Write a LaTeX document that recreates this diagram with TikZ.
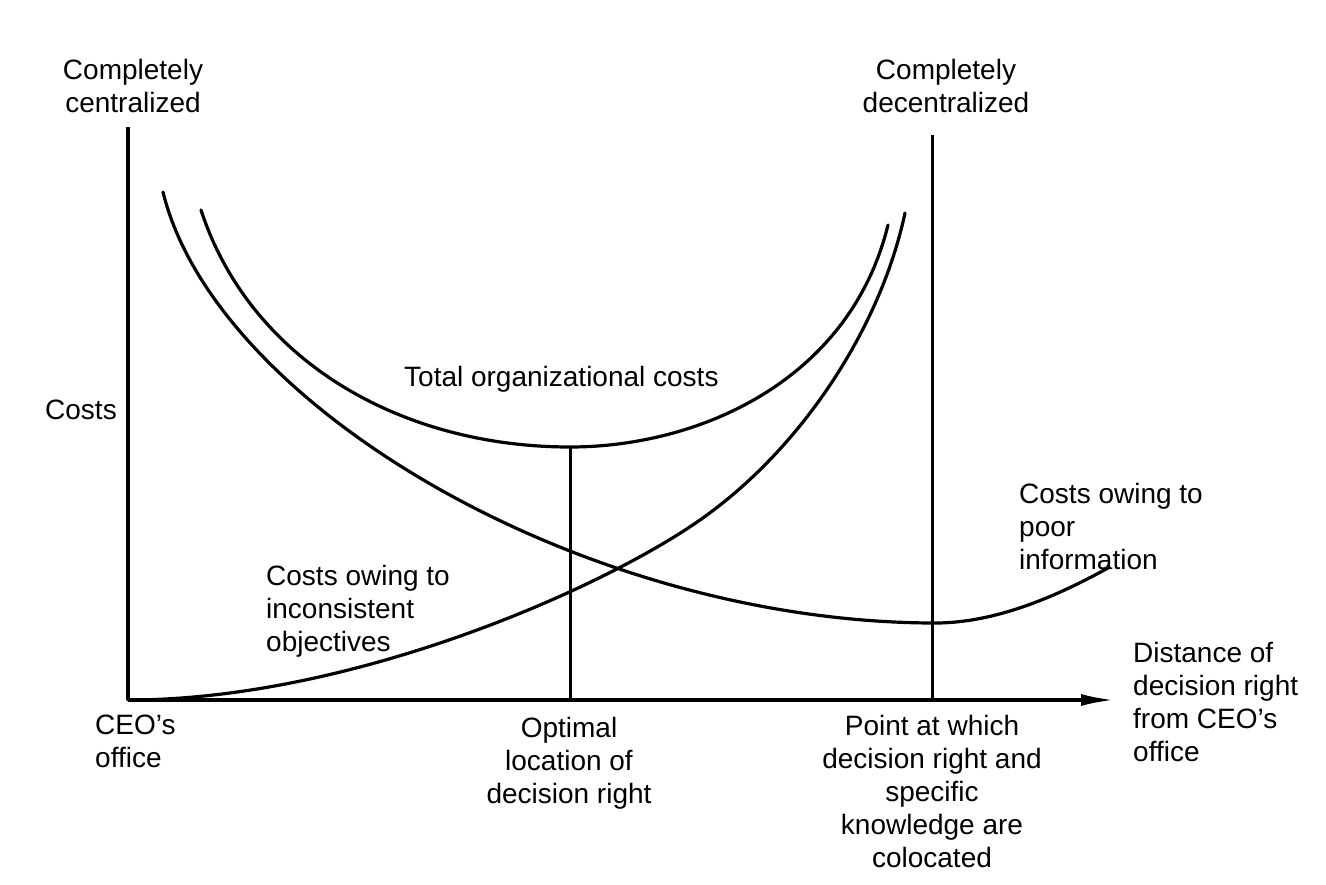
\documentclass[tikz,border=0pt]{standalone}
\usepackage{fontspec}
\setmainfont{Liberation Sans}
\usetikzlibrary{arrows.meta}
\begin{document}
\begin{tikzpicture}[x=1pt,y=-1pt,
  lbl/.style={inner sep=0pt,font=\fontsize{28}{33}\selectfont},
  axisline/.style={line width=3.6pt},
  curve/.style={line width=3.2pt,line cap=round},
  guide/.style={line width=3pt}]
\useasboundingbox (0,0) rectangle (1326,885);
\fill[white] (0,0) rectangle (1326,885);
% coordinates
\coordinate (O) at (128,700);
\coordinate (Ytop) at (128,127);
\coordinate (Xend) at (1115,700);
\coordinate (Rtop) at (932,135);
\coordinate (Rbot) at (932,700);
\coordinate (Opt) at (570,447);
\coordinate (OptBot) at (570,700);
% axes
\draw[axisline] (Ytop) -- (O);
\draw[axisline,-{Latex[length=34pt,width=12pt]}] (O) -- (Xend);
\draw[guide] (Rtop) -- (Rbot);
\draw[guide] (Opt) -- (OptBot);
% total organizational costs
\coordinate (T0) at (201,210);
\coordinate (T1) at (888,225);
\draw[curve] (T0) .. controls (250,360) and (400,447) .. (Opt)
  .. controls (700,447) and (850,380) .. (T1);
% costs owing to poor information
\coordinate (P0) at (163,192);
\coordinate (Pmin) at (931,623);
\coordinate (P1) at (1108,568);
\draw[curve] (P0) .. controls (215,405) and (580,621) .. (Pmin)
  .. controls (990,624) and (1050,600) .. (P1);
% costs owing to inconsistent objectives
\coordinate (Imid) at (700,520);
\coordinate (I1) at (905,213);
\draw[curve] (O) .. controls (350,700) and (600,590) .. (Imid)
  .. controls (800,450) and (880,330) .. (I1);
% labels
\node[lbl,anchor=north,align=center] (cent) at (133,59.5) {Completely\\centralized};
\node[lbl,anchor=north,align=center] (decent) at (946,59.5) {Completely\\decentralized};
\node[lbl,anchor=base west] (costs) at (45,420) {Costs};
\node[lbl,anchor=base west] (total) at (404,387) {Total organizational costs};
\node[lbl,anchor=north west,align=left] (poor) at (1019,483) {Costs owing to\\poor\\information};
\node[lbl,anchor=north west,align=left] (incons) at (266,565) {Costs owing to\\inconsistent\\objectives};
\node[lbl,anchor=north west,align=left] (ceo) at (95,715) {CEO's\\office};
\node[lbl,anchor=north,align=center] (optimal) at (569,717) {Optimal\\location of\\decision right};
\node[lbl,anchor=north,align=center] (point) at (932,715) {Point at which\\decision right and\\specific\\knowledge are\\colocated};
\node[lbl,anchor=north west,align=left] (dist) at (1133,642) {Distance of\\decision right\\from CEO's\\office};
\end{tikzpicture}
\end{document}
